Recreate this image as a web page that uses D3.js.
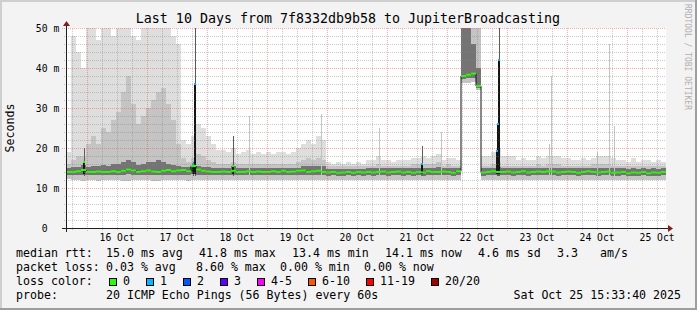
<!DOCTYPE html>
<html>
<head>
<meta charset="utf-8">
<script src="https://cdn.jsdelivr.net/npm/d3@7"></script>
<style>
html, body { margin: 0; padding: 0; background: #f3f3f3; }
svg text { font-family: "DejaVu Sans Mono", monospace; white-space: pre; }
</style>
</head>
<body>
<script>
var W = 697, H = 310;
var start = new Date(2025, 9, 15, 15, 33, 40), end = new Date(2025, 9, 25, 15, 33, 40);

// 2 hour bins, values in ms
var med = [
14.0,14.0,14.2,14.5,14.0,14.0,14.1,14.0,14.0,14.2,
14.0,14.3,14.6,14.4,14.0,14.2,14.4,14.1,14.0,14.3,
14.5,14.2,14.4,14.5,14.2,15.5,14.6,14.3,14.1,14.0,
14.0,14.1,14.0,14.3,14.0,14.0,14.2,14.0,14.1,14.0,
14.0,14.2,14.0,14.3,14.0,14.1,14.3,14.4,14.0,14.2,
14.3,14.0,13.9,14.0,13.8,13.9,14.0,13.8,14.0,13.9,
14.0,13.9,14.0,14.1,13.9,14.0,14.1,13.9,14.0,13.8,
14.0,13.9,14.2,14.0,14.0,14.1,14.0,13.8,14.2,38.0,
38.3,38.6,35.5,13.9,14.0,14.2,14.0,14.0,14.1,13.9,
14.0,14.2,13.9,14.0,14.1,14.0,14.2,14.1,13.9,14.0,
14.1,14.0,13.8,14.0,14.2,14.0,13.9,14.0,14.1,13.8,
13.9,14.0,13.7,13.9,13.8,14.0,13.7,13.9,13.8,14.0];
var lo = [
12.2,12.0,12.0,11.8,12.0,12.0,11.8,12.0,11.9,12.0,
12.0,11.8,11.8,12.0,12.0,11.9,12.0,11.8,11.8,12.0,
12.0,11.9,12.0,12.0,11.8,12.0,12.0,12.0,12.1,12.0,
12.1,12.0,12.0,12.1,12.0,12.0,12.1,12.0,12.0,12.1,
12.0,12.1,12.0,12.0,12.1,12.0,12.0,12.1,12.0,12.0,
12.1,12.0,12.0,12.1,12.0,12.0,12.1,12.0,12.0,12.1,
12.0,12.0,12.1,12.0,12.0,12.1,12.0,12.0,12.1,12.0,
12.0,12.1,12.0,12.0,12.1,12.0,12.0,12.1,12.0,36.3,
36.3,36.5,34.5,12.0,12.1,12.0,12.0,12.1,12.0,12.0,
12.1,12.0,12.0,12.1,12.0,12.0,12.1,12.0,12.0,12.1,
12.0,12.0,12.1,12.0,12.0,12.1,12.0,12.0,12.1,12.0,
12.0,12.1,12.0,11.9,12.0,12.0,11.9,12.0,12.0,11.9];
var q1 = [
13.3,13.2,13.3,13.3,13.2,13.2,13.3,13.2,13.2,13.3,
13.2,13.3,13.4,13.3,13.2,13.2,13.3,13.2,13.2,13.3,
13.3,13.2,13.3,13.3,13.2,13.4,13.3,13.2,13.2,13.2,
13.2,13.2,13.2,13.3,13.2,13.2,13.2,13.2,13.2,13.2,
13.2,13.2,13.2,13.3,13.2,13.2,13.2,13.3,13.2,13.2,
13.2,13.2,13.1,13.2,13.1,13.1,13.2,13.1,13.2,13.1,
13.2,13.1,13.2,13.2,13.1,13.2,13.2,13.1,13.2,13.1,
13.2,13.1,13.2,13.2,13.2,13.2,13.2,13.1,13.2,37.2,
37.5,37.6,35.0,13.1,13.2,13.2,13.2,13.2,13.2,13.1,
13.2,13.2,13.1,13.2,13.2,13.2,13.2,13.2,13.1,13.2,
13.2,13.2,13.1,13.2,13.2,13.2,13.1,13.2,13.2,13.1,
13.1,13.2,13.0,13.1,13.0,13.2,13.0,13.1,13.0,13.2];
var q3 = [
15.0,15.3,15.3,15.8,15.3,15.5,15.5,15.8,15.5,16.0,
16.0,16.5,17.0,16.5,15.8,16.0,16.5,16.5,17.0,16.5,
16.0,15.8,15.5,15.3,15.3,15.5,15.5,15.3,15.2,15.0,
15.0,15.0,15.0,15.5,15.0,15.0,15.0,15.0,15.0,15.0,
15.0,15.0,15.0,15.0,15.0,15.0,15.0,15.5,15.5,15.5,
15.5,15.5,14.8,14.8,14.8,14.8,14.8,14.8,14.8,14.8,
15.0,15.0,15.0,15.0,15.0,15.0,15.0,15.0,15.0,15.0,
15.0,15.0,15.0,15.0,15.2,15.0,15.0,15.0,15.0,50.0,
50.0,46.0,40.0,15.0,15.0,15.0,15.2,15.0,15.0,15.0,
15.0,15.0,15.0,15.0,15.0,15.0,15.0,15.0,15.0,15.0,
15.0,15.0,15.0,15.0,15.0,15.0,15.0,15.0,15.0,15.0,
15.0,15.0,14.8,15.0,14.8,15.0,14.8,15.0,14.8,15.0];
var p90 = [
16,17,18,18,21,23,21,25,24,27,
29,34,38,31,26,28,30,32,34,35,
31,27,21,17.5,16.5,17.5,18.5,18,17,16.5,
16,16,16,16.5,16,16,16,16,16,16,
16,16,16,16,16,16,16.5,17,17.5,17,
17.5,17,15.5,15.5,15.5,15.5,15.5,15.5,15.5,15.5,
15.5,15.5,16,15.5,15.5,15.5,15.5,15.5,15.5,16,
16,16,16,16,16.5,15.5,16,15.5,15.5,50,
50,50,50,15.5,15.5,16,16.5,15.5,15.5,15.5,
15.5,15.5,15.5,15.5,16,15.5,16,16,16,15.5,
15.5,15.5,15.5,15.5,15.5,16,16,16,16,15.5,
15.5,15.5,15.5,15.5,15.5,15.5,15.5,15.5,15.5,15.5];
var hi = [
19,48,44,40,50,50,47,50,50,48,
50,50,50,48,47,50,50,50,50,50,
50,48,46,22,21,23,26,25,23,21,
19.5,19.5,19,20,18.5,19,19.5,18.5,19,18.5,
19,18.5,19,19,18.5,19,20,21,22,21,
23,22,16.5,16,16.5,16,16.5,16,16.5,16,
17,17,18,17,17,16.5,17,17,17,17.5,
17.5,18,17.5,18,18.5,17,17.5,17.5,17,50,
50,50,50,18,18,19,20,18,18,18,
17,17.5,17,17,18,17.5,18,18,18,17.5,
17.5,17,17,17.5,17,17.5,18,18,18,17.5,
17,17,16.5,17.5,16.5,17,17,16.5,17,16.5];

// single samples standing out of the smoke
var spikeTime = ["2025-10-15 22:45","2025-10-17 18:21","2025-10-17 19:09","2025-10-18 10:21",
  "2025-10-18 16:45","2025-10-19 21:33","2025-10-20 20:45","2025-10-21 13:57","2025-10-21 21:33",
  "2025-10-22 19:57","2025-10-22 20:21","2025-10-22 20:45","2025-10-23 16:45","2025-10-23 17:33",
  "2025-10-24 11:57","2025-10-24 16:45","2025-10-24 18:45"];
var spikeTop  = [20, 16.5, 50, 23, 28, 28.5, 25, 20.5, 24, 20, 26, 50, 21, 38, 19, 46, 25.5];
var spikeMed  = [16.5, 16, 36, 15.5, null, null, null, 16, null, 19.3, 26, 42, null, null, null, null, null];
var spikeLoss = [0, 1, 1, 0, null, null, null, 1, null, 1, 1, 1, null, null, null, null, null];

var lossLabels = ["0", "1", "2", "3", "4-5", "6-10", "11-19", "20/20"];
var lossColors = ["#26ff00", "#00b8ff", "#0059ff", "#5e00ff", "#ff00ff", "#ff5500", "#ff0000", "#a10000"];

var yTickLabels = ["0", "10", "20", "30", "40", "50"];

var svg = d3.select('body').append('svg').attr('width', W).attr('height', H).style('display', 'block');

// background + frame
svg.append('rect').attr('width', W).attr('height', H).attr('fill', '#f3f3f3');
svg.append('rect').attr('x', 0).attr('y', 0).attr('width', W).attr('height', 2).attr('fill', '#cfcfcf');
svg.append('rect').attr('x', 0).attr('y', 0).attr('width', 2).attr('height', H).attr('fill', '#cfcfcf');
svg.append('rect').attr('x', 0).attr('y', H - 2).attr('width', W).attr('height', 2).attr('fill', '#9e9e9e');
svg.append('rect').attr('x', W - 2).attr('y', 0).attr('width', 2).attr('height', H).attr('fill', '#9e9e9e');

var x = d3.scaleTime().domain([start, end]).range([66, 666]);
var y = d3.scaleLinear().domain([0, 50]).range([228, 28]);

var N = med.length;
var binT = d3.range(N + 1).map(function(i){ return d3.timeHour.offset(start, 2 * i); });

svg.append('rect').attr('x', 66).attr('y', 28).attr('width', 600).attr('height', 200).attr('fill', '#fff');

var plot = svg.append('g').attr('shape-rendering', 'crispEdges');

function band(low, high, color) {
	plot.append('g').selectAll('rect').data(d3.range(N)).join('rect')
		.attr('x', function(i){ return x(binT[i]); })
		.attr('width', function(i){ return x(binT[i + 1]) - x(binT[i]); })
		.attr('y', function(i){ return y(high[i]); })
		.attr('height', function(i){ return Math.max(0, y(low[i]) - y(high[i])); })
		.attr('fill', color);
}
band(lo, hi, '#dedede');
band(lo, p90, '#c4c4c4');
band(q1, q3, '#747474');

// spikes
var parse = d3.timeParse('%Y-%m-%d %H:%M');
var sp = spikeTime.map(function(s, i){
	return {x: Math.round(x(parse(s))), top: spikeTop[i], med: spikeMed[i], loss: spikeLoss[i]};
});
plot.selectAll('line.sp').data(sp).join('line').attr('class', 'sp')
	.attr('x1', function(d){ return d.x + 0.5; }).attr('x2', function(d){ return d.x + 0.5; })
	.attr('y1', y(13)).attr('y2', function(d){ return y(d.top); })
	.attr('stroke', function(d){ return d.med == null ? '#c4c4c4' : '#5a5a5a'; });
var dark = sp.filter(function(d){ return d.med != null; });
plot.selectAll('rect.dk').data(dark).join('rect').attr('class', 'dk')
	.attr('x', function(d){ return d.x - 1; }).attr('width', 2)
	.attr('y', function(d){ return y(d.med); })
	.attr('height', function(d){ return y(13.5) - y(d.med); })
	.attr('fill', '#141414');

// median
var stepPts = binT.map(function(t, i){ return [t, med[Math.min(i, N - 1)]]; });
svg.append('path').attr('d', d3.line().curve(d3.curveStepAfter)
		.x(function(d){ return x(d[0]); }).y(function(d){ return y(d[1]); })(stepPts))
	.attr('fill', 'none').attr('stroke', '#111').attr('stroke-width', 1);
svg.append('g').selectAll('line').data(d3.range(N)).join('line')
	.attr('x1', function(i){ return x(binT[i]); }).attr('x2', function(i){ return x(binT[i + 1]); })
	.attr('y1', function(i){ return y(med[i]); }).attr('y2', function(i){ return y(med[i]); })
	.attr('stroke', lossColors[0]).attr('stroke-width', 2);
plot.selectAll('rect.ls').data(dark).join('rect').attr('class', 'ls')
	.attr('x', function(d){ return d.x - 1; }).attr('width', 2)
	.attr('y', function(d){ return y(d.med) - 1; }).attr('height', 2)
	.attr('fill', function(d){ return lossColors[d.loss]; });

// grid, drawn over the graph like rrdtool does
var grid = svg.append('g').attr('shape-rendering', 'crispEdges');
var minorCol = 'rgba(130,130,130,0.42)', majorCol = 'rgba(222,80,80,0.45)';
var yMinor = y.ticks(25).filter(function(v){ return v % 10 != 0; });
var yMajor = y.ticks(5);
var xMinor = x.ticks(d3.timeHour.every(6)).filter(function(t){ return t.getHours() != 0; });
var xMajor = x.ticks(d3.timeDay.every(1));

grid.selectAll('line.hm').data(yMinor).join('line').attr('class', 'hm')
	.attr('x1', 64).attr('x2', 666).attr('y1', function(v){ return Math.round(y(v)) + 0.5; })
	.attr('y2', function(v){ return Math.round(y(v)) + 0.5; })
	.attr('stroke', minorCol).attr('stroke-dasharray', '1,1');
grid.selectAll('line.vm').data(xMinor).join('line').attr('class', 'vm')
	.attr('y1', 230).attr('y2', 28).attr('x1', function(t){ return Math.round(x(t)) + 0.5; })
	.attr('x2', function(t){ return Math.round(x(t)) + 0.5; })
	.attr('stroke', minorCol).attr('stroke-dasharray', '1,1');
grid.selectAll('line.hM').data(yMajor).join('line').attr('class', 'hM')
	.attr('x1', 62).attr('x2', 666).attr('y1', function(v){ return Math.round(y(v)) + 0.5; })
	.attr('y2', function(v){ return Math.round(y(v)) + 0.5; })
	.attr('stroke', majorCol).attr('stroke-dasharray', '1,1');
grid.selectAll('line.vM').data(xMajor).join('line').attr('class', 'vM')
	.attr('y1', 231).attr('y2', 28).attr('x1', function(t){ return Math.round(x(t)) + 0.5; })
	.attr('x2', function(t){ return Math.round(x(t)) + 0.5; })
	.attr('stroke', majorCol).attr('stroke-dasharray', '1,1');

// axes
svg.append('line').attr('x1', 62).attr('x2', 670).attr('y1', 228.5).attr('y2', 228.5).attr('stroke', '#1f1f1f');
svg.append('line').attr('x1', 66.5).attr('x2', 66.5).attr('y1', 232).attr('y2', 24).attr('stroke', '#1f1f1f');
svg.append('path').attr('d', 'M668,225L673,228.5L668,232Z').attr('fill', '#801f1f');
svg.append('path').attr('d', 'M63,26L66.5,21L70,26Z').attr('fill', '#801f1f');

// tick labels
var axisFont = '9.7px';
svg.selectAll('text.yl').data(yMajor).join('text').attr('class', 'yl')
	.attr('x', 47.5).attr('y', function(v){ return y(v) + 3.5; }).attr('text-anchor', 'end')
	.attr('font-size', axisFont).text(function(v, i){ return yTickLabels[i]; });
svg.selectAll('text.yu').data(yMajor.filter(function(v){ return v > 0; })).join('text').attr('class', 'yu')
	.attr('x', 53.5).attr('y', function(v){ return y(v) + 3.5; })
	.attr('font-size', axisFont).text('m');
var noons = d3.timeDay.range(start, end).map(function(d){ return d3.timeHour.offset(d, 12); })
	.filter(function(d){ return d < end; });
svg.selectAll('text.xl').data(noons).join('text').attr('class', 'xl')
	.attr('x', function(d){ return x(d); }).attr('y', 241).attr('text-anchor', 'middle')
	.attr('font-size', axisFont).text(d3.timeFormat('%d Oct'));

// title, axis title, watermark
svg.append('text').attr('x', 348).attr('y', 23).attr('text-anchor', 'middle').attr('font-size', '13.3px')
	.text('Last 10 Days from 7f8332db9b58 to JupiterBroadcasting');
svg.append('text').attr('transform', 'translate(14,128) rotate(-90)').attr('text-anchor', 'middle')
	.attr('font-size', '11.6px').text('Seconds');
svg.append('text').attr('transform', 'translate(685,4) rotate(90)').attr('font-size', '8px')
	.attr('fill', '#b0b0b0').text('RRDTOOL / TOBI OETIKER');

// legend
var lf = '11.6px';
function row(yb, items) {
	items.forEach(function(it){
		svg.append('text').attr('x', it[0]).attr('y', yb).attr('font-size', lf).text(it[1]);
	});
}
row(257, [[16, 'median rtt:'], [106, '15.0 ms avg'], [199, '41.8 ms max'], [292, '13.4 ms min'],
	[385, '14.1 ms now'], [478, '4.6 ms sd'], [557, '3.3'], [600, 'am/s']]);
row(271, [[16, 'packet loss:'], [106, '0.03 % avg'], [196, '8.60 % max'], [280, '0.00 % min'], [364, '0.00 % now']]);
row(285, [[16, 'loss color:']]);
var bx = 109;
lossLabels.forEach(function(l, i){
	svg.append('rect').attr('x', bx + 0.5).attr('y', 278.5).attr('width', 7).attr('height', 7)
		.attr('fill', lossColors[i]).attr('stroke', '#000');
	svg.append('text').attr('x', bx + 14).attr('y', 285).attr('font-size', lf).text(l);
	bx += 14 + l.length * 7 + 16;
});
row(299, [[16, 'probe:'], [106, '20 ICMP Echo Pings (56 Bytes) every 60s']]);
svg.append('text').attr('x', 681).attr('y', 299).attr('text-anchor', 'end').attr('font-size', lf)
	.text('Sat Oct 25 15:33:40 2025');
</script>
</body>
</html>
